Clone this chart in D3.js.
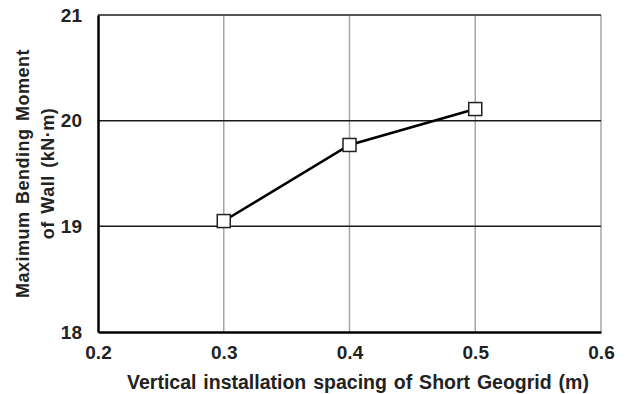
<!DOCTYPE html>
<html>
<head>
<meta charset="utf-8">
<script src="https://cdn.jsdelivr.net/npm/d3@7/dist/d3.min.js"></script>
<style>
  html, body { margin: 0; padding: 0; background: #fff; }
  text { font-family: "Liberation Sans", Arial, sans-serif; font-weight: bold; fill: #222; }
</style>
</head>
<body>
<svg id="chart" width="628" height="394"></svg>
<script>
// Short geogrid vertical spacing vs. maximum wall bending moment
const spacing = [0.3, 0.4, 0.5];
const moment = [19.05, 19.77, 20.11];
const xTicks = [0.2, 0.3, 0.4, 0.5, 0.6];
const yTicks = [18, 19, 20, 21];
const xTitle = "Vertical installation spacing of Short Geogrid (m)";
const yTitleLines = ["Maximum Bending Moment", "of Wall (kN\u00b7m)"];

const svg = d3.select("#chart");
const m = { left: 98, right: 601, top: 15, bottom: 332 };

const x = d3.scaleLinear().domain([0.2, 0.6]).range([m.left, m.right]);
const y = d3.scaleLinear().domain([18, 21]).range([m.bottom, m.top]);

// vertical gridlines (grey) incl. right frame
svg.append("g").selectAll("line")
  .data(xTicks.slice(1))
  .join("line")
  .attr("x1", d => x(d)).attr("x2", d => x(d))
  .attr("y1", m.top).attr("y2", m.bottom)
  .attr("stroke", "#a6a6a6").attr("stroke-width", 1.5);

// horizontal gridlines (dark)
svg.append("g").selectAll("line")
  .data(yTicks.slice(1, -1))
  .join("line")
  .attr("x1", m.left).attr("x2", m.right)
  .attr("y1", d => y(d)).attr("y2", d => y(d))
  .attr("stroke", "#1a1a1a").attr("stroke-width", 1.5);

// top frame
svg.append("line")
  .attr("x1", m.left).attr("x2", m.right)
  .attr("y1", y(21)).attr("y2", y(21))
  .attr("stroke", "#555").attr("stroke-width", 2);

// axes
const xAxis = d3.axisBottom(x).tickValues(xTicks).tickSize(0).tickPadding(14).tickFormat(d3.format(".1f"));
const yAxis = d3.axisLeft(y).tickValues(yTicks).tickSize(0).tickPadding(16).tickFormat(d3.format("d"));

const gx = svg.append("g").attr("transform", `translate(0,${m.bottom})`).call(xAxis);
const gy = svg.append("g").attr("transform", `translate(${m.left},0)`).call(yAxis);
[gx, gy].forEach(g => {
  g.select(".domain").attr("stroke", "#000").attr("stroke-width", 2.5);
  g.selectAll("text").style("font-size", "19px").style("font-family", "'Liberation Sans', Arial, sans-serif").style("font-weight", "bold").attr("fill", "#262626");
});

// data line
svg.append("path")
  .datum(spacing.map((s, i) => [s, moment[i]]))
  .attr("fill", "none").attr("stroke", "#000").attr("stroke-width", 2.5)
  .attr("d", d3.line().x(d => x(d[0])).y(d => y(d[1])));

// square markers
const ms = 13;
svg.append("g").selectAll("rect")
  .data(spacing.map((s, i) => [s, moment[i]]))
  .join("rect")
  .attr("x", d => x(d[0]) - ms / 2).attr("y", d => y(d[1]) - ms / 2)
  .attr("width", ms).attr("height", ms)
  .attr("fill", "#fff").attr("stroke", "#222").attr("stroke-width", 1.5);

// axis titles
svg.append("text")
  .attr("x", 358).attr("y", 389)
  .attr("text-anchor", "middle").style("font-size", "19.5px")
  .style("word-spacing", "1.5px")
  .text(xTitle);

const cy = (m.top + m.bottom) / 2;
yTitleLines.forEach((t, i) => {
  svg.append("text")
    .attr("transform", `translate(${29 + i * 25},${cy}) rotate(-90)`)
    .attr("text-anchor", "middle").style("font-size", "18px")
    .style("letter-spacing", "0.5px").style("word-spacing", "2px")
    .text(t);
});
</script>
</body>
</html>
